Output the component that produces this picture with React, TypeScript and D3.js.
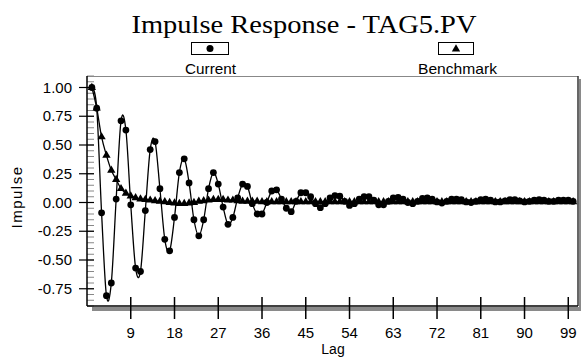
import React from "react";
import * as d3 from "d3";

const lags: number[] = Array.from({ length: 100 }, (_, i) => i + 1);

const currentValues: number[] = [
  1.0, 0.82, -0.09, -0.81, -0.7, 0.03, 0.71, 0.63, -0.02, -0.57,
  -0.6, -0.07, 0.46, 0.53, 0.12, -0.32, -0.42, -0.13, 0.26, 0.38,
  0.17, -0.15, -0.29, -0.15, 0.12, 0.26, 0.16, -0.04, -0.19, -0.13,
  0.04, 0.16, 0.14, -0.01, -0.1, -0.1, 0.0, 0.1, 0.11, 0.03,
  -0.05, -0.08, 0.01, 0.085, 0.085, 0.05, -0.01, -0.045, -0.01, 0.04,
  0.06, 0.055, 0.01, -0.025, -0.01, 0.03, 0.05, 0.05, 0.02, -0.02,
  -0.02, 0.01, 0.04, 0.045, 0.03, 0.0, -0.01, 0.01, 0.035, 0.04,
  0.03, 0.005, -0.005, 0.01, 0.03, 0.03, 0.025, 0.005, 0.0, 0.01,
  0.025, 0.03, 0.02, 0.005, 0.005, 0.015, 0.025, 0.025, 0.015, 0.005,
  0.01, 0.02, 0.025, 0.02, 0.01, 0.01, 0.02, 0.02, 0.02, 0.01,
];

const benchmarkValues: number[] = [
  1.0, 0.82, 0.57, 0.41, 0.28, 0.2, 0.12, 0.08, 0.055, 0.04,
  0.03, 0.025, 0.02, 0.015, 0.01, 0.005, 0.0, -0.005, -0.01, -0.01,
  -0.005, 0.0, 0.01, 0.015, 0.02, 0.025, 0.025, 0.025, 0.02, 0.02,
  0.015, 0.01, 0.01, 0.01, 0.01, 0.005, 0.005, 0.005, 0.005, 0.005,
  0.005, 0.005, 0.005, 0.005, 0.005, 0.005, 0.005, 0.005, 0.005, 0.005,
  0.005, 0.005, 0.005, 0.005, 0.005, 0.005, 0.005, 0.005, 0.005, 0.005,
  0.005, 0.005, 0.005, 0.005, 0.005, 0.005, 0.005, 0.005, 0.005, 0.005,
  0.005, 0.005, 0.005, 0.005, 0.005, 0.005, 0.005, 0.005, 0.005, 0.005,
  0.005, 0.005, 0.005, 0.005, 0.005, 0.005, 0.005, 0.005, 0.005, 0.005,
  0.005, 0.005, 0.005, 0.005, 0.005, 0.005, 0.005, 0.005, 0.005, 0.005,
];

const xTicks: number[] = [9, 18, 27, 36, 45, 54, 63, 72, 81, 90, 99];
const yTicks: number[] = [1.0, 0.75, 0.5, 0.25, 0.0, -0.25, -0.5, -0.75];
const yMinorTicks: number[] = d3.range(-18, 23).map((k) => k * 0.05);

const titleText = "Impulse Response - TAG5.PV";
const seriesNames = ["Current", "Benchmark"];

const W = 581;
const H = 358;
const L = 87;
const R = 578;
const T = 76;
const B = 306;

export default function App() {
  const x = d3.scaleLinear().domain([0, 101]).range([L, R]);
  const y = d3.scaleLinear().domain([-0.9, 1.1]).range([B, T]);

  const line = d3
    .line<number>()
    .x((_, i) => x(lags[i]))
    .y((d) => y(d))
    .curve(d3.curveCardinal.tension(0));

  const tri = d3.symbol().type(d3.symbolTriangle).size(30)() as string;
  const triLegend = d3.symbol().type(d3.symbolTriangle).size(30)() as string;

  const sans = "'Liberation Sans', Arial, sans-serif";
  const serif = "'Liberation Serif', 'Times New Roman', serif";

  return (
    <svg
      width={W}
      height={H}
      style={{ position: "absolute", left: 0, top: 0, background: "#fff" }}
    >
      <defs>
        <clipPath id="plotClip">
          <rect x={L} y={T} width={R - L} height={B - T} />
        </clipPath>
      </defs>
      {/* title */}
      <text
        x={304}
        y={33}
        textAnchor="middle"
        fontFamily={serif}
        fontSize={26}
        textLength={345}
        lengthAdjust="spacingAndGlyphs"
        fill="#000"
      >
        {titleText}
      </text>

      {/* legend */}
      <rect x={191.5} y={42.5} width={37} height={12} fill="#fff" stroke="#000" strokeWidth={1} />
      <circle cx={210} cy={48.5} r={3.5} fill="#000" />
      <text x={210.5} y={74} textAnchor="middle" fontFamily={sans} fontSize={15} textLength={51} lengthAdjust="spacingAndGlyphs">
        {seriesNames[0]}
      </text>
      <rect x={438.5} y={42.5} width={35} height={12} fill="#fff" stroke="#000" strokeWidth={1} />
      <path d={triLegend} transform="translate(456,49)" fill="#000" />
      <text x={457.5} y={74} textAnchor="middle" fontFamily={sans} fontSize={15} textLength={79} lengthAdjust="spacingAndGlyphs">
        {seriesNames[1]}
      </text>

      {/* frame shadow */}
      <rect x={92} y={B + 1} width={W - 92} height={4} fill="#8a8a8a" />
      <rect x={R + 1} y={T + 3} width={2.5} height={B - T + 2} fill="#8a8a8a" />
      <rect x={L} y={T} width={R - L} height={B - T} fill="#fff" />
      <line x1={L} x2={R} y1={T + 0.5} y2={T + 0.5} stroke="#888" strokeWidth={1.2} />
      <line x1={R} x2={R} y1={T} y2={B} stroke="#333" strokeWidth={1.5} />

      {/* y minor ticks */}
      {yMinorTicks.map((v, i) => (
        <line key={"ym" + i} x1={L} x2={L + 7} y1={y(v)} y2={y(v)} stroke="#888" strokeWidth={1} />
      ))}
      {/* y major ticks */}
      {yTicks.map((v) => (
        <g key={"y" + v}>
          <line x1={L - 8} x2={L + 7} y1={y(v)} y2={y(v)} stroke="#000" strokeWidth={1.2} />
          <text
            x={72}
            y={y(v) + 5}
            textAnchor="end"
            fontFamily={sans}
            fontSize={15}
            fill="#000"
          >
            {v.toFixed(2)}
          </text>
        </g>
      ))}

      {/* series */}
      <g clipPath="url(#plotClip)">
        <path d={line(currentValues) || ""} fill="none" stroke="#000" strokeWidth={1.3} />
        <path d={line(benchmarkValues) || ""} fill="none" stroke="#000" strokeWidth={1.3} />
        {currentValues.map((v, i) => (
          <circle key={"c" + i} cx={x(lags[i])} cy={y(v)} r={3.4} fill="#000" />
        ))}
        {benchmarkValues.map((v, i) => (
          <path key={"b" + i} d={tri} transform={`translate(${x(lags[i])},${y(v)})`} fill="#000" />
        ))}
      </g>

      {/* axes lines */}
      <line x1={L} x2={L} y1={T} y2={B} stroke="#000" strokeWidth={1.5} />
      <line x1={L} x2={R} y1={B} y2={B} stroke="#000" strokeWidth={1.5} />

      {/* x ticks */}
      {xTicks.map((t) => (
        <g key={"x" + t}>
          <line x1={x(t)} x2={x(t)} y1={297} y2={319} stroke="#000" strokeWidth={1.5} />
          <text x={x(t)} y={338} textAnchor="middle" fontFamily={sans} fontSize={15} fill="#000">
            {t}
          </text>
        </g>
      ))}
      <text x={333} y={354} textAnchor="middle" fontFamily={sans} fontSize={14} fill="#000">
        Lag
      </text>
      <text
        transform="translate(22,197) rotate(-90)"
        textAnchor="middle"
        fontFamily={sans}
        fontSize={15}
        letterSpacing={1.5}
        fill="#000"
      >
        Impulse
      </text>
    </svg>
  );
}
